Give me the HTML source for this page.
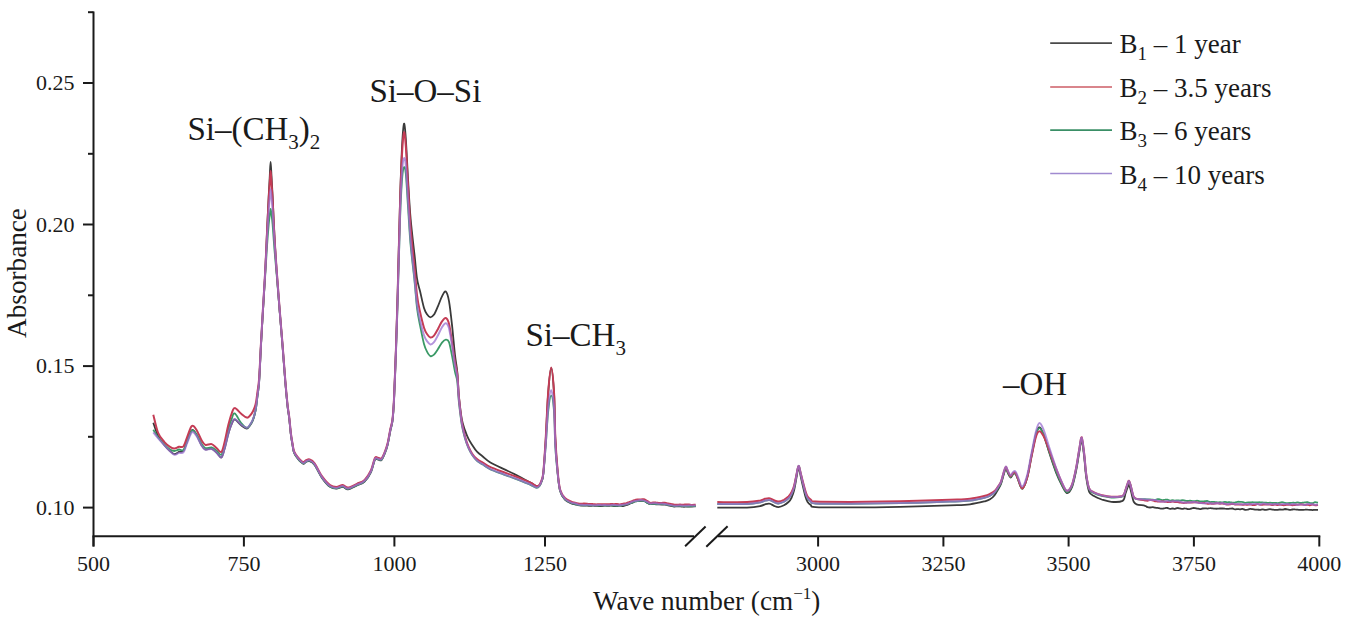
<!DOCTYPE html>
<html><head><meta charset="utf-8"><style>
html,body{margin:0;padding:0;background:#fff;width:1352px;height:624px;overflow:hidden}
svg{display:block}
text{font-family:"Liberation Serif",serif;fill:#1a1a1a}
.tick{font-size:22px}
.title{font-size:27.2px}
.ann{font-size:33px}
.leg{font-size:27px}
</style></head><body>
<svg width="1352" height="624" viewBox="0 0 1352 624">
<path d="M153.3,422.7 C154.1,424.9 156.2,432.0 158.0,435.8 C159.8,439.5 162.2,442.5 164.2,445.0 C166.2,447.5 168.3,449.5 170.0,451.0 C171.7,452.5 173.0,454.0 174.5,454.2 C176.0,454.3 177.5,452.5 179.0,451.9 C180.5,451.3 182.1,452.6 183.5,450.8 C184.9,448.9 185.9,444.3 187.3,440.8 C188.7,437.4 190.3,431.3 191.8,430.2 C193.3,429.2 194.7,432.0 196.3,434.5 C197.9,436.9 199.9,442.5 201.4,445.0 C202.9,447.5 203.6,448.9 205.3,449.5 C207.0,450.1 209.8,448.2 211.7,448.8 C213.6,449.4 215.2,451.4 216.8,452.8 C218.4,454.3 220.0,458.1 221.3,457.5 C222.6,456.8 223.3,453.1 224.5,449.1 C225.7,445.2 227.1,438.1 228.3,434.0 C229.5,429.9 230.4,427.0 231.5,424.5 C232.6,422.1 233.1,419.2 234.7,419.3 C236.3,419.5 239.2,423.8 241.2,425.3 C243.2,426.8 245.3,428.5 246.8,428.5 C248.3,428.4 249.3,426.4 250.3,425.0 C251.3,423.6 252.1,422.4 253.0,420.0 C253.9,417.6 254.8,414.4 255.6,410.4 C256.4,406.4 256.9,400.7 257.5,396.0 C258.1,391.3 258.5,390.4 259.1,382.2 C259.7,374.0 260.3,358.7 260.9,346.9 C261.5,335.1 262.2,323.4 262.9,311.6 C263.6,299.8 264.3,289.2 265.0,276.3 C265.7,263.4 266.3,247.9 266.9,234.4 C267.5,221.0 268.2,205.5 268.7,195.7 C269.2,185.8 269.5,181.1 269.8,175.5 C270.1,169.9 270.3,162.0 270.6,162.0 C270.9,162.1 271.2,170.2 271.5,175.9 C271.8,181.5 272.1,185.9 272.6,195.7 C273.1,205.6 273.7,221.5 274.4,234.9 C275.1,248.3 276.1,263.5 277.0,276.3 C277.9,289.1 278.8,299.8 279.7,311.6 C280.6,323.4 281.7,335.1 282.6,346.9 C283.5,358.7 284.5,372.3 285.3,382.2 C286.1,392.1 286.9,400.1 287.5,406.0 C288.1,411.9 288.5,412.7 289.1,417.5 C289.7,422.3 290.3,430.3 290.9,435.0 C291.5,439.7 292.1,442.7 292.6,445.7 C293.1,448.7 293.2,450.8 294.1,453.0 C295.0,455.2 296.5,457.2 298.0,459.0 C299.5,460.8 301.8,463.2 303.1,463.7 C304.4,464.2 304.9,462.4 306.0,462.0 C307.1,461.6 308.1,460.6 309.5,461.1 C310.9,461.6 312.5,462.1 314.6,465.0 C316.7,467.9 319.7,474.8 322.3,478.4 C324.9,482.0 327.6,485.1 330.0,486.8 C332.4,488.5 334.3,488.7 336.4,488.7 C338.5,488.7 340.9,486.7 342.8,486.8 C344.7,486.9 345.6,489.5 348.0,489.3 C350.4,489.1 354.1,486.8 356.9,485.5 C359.7,484.2 362.2,483.9 364.6,481.6 C367.0,479.4 369.3,475.6 371.0,472.0 C372.7,468.4 373.7,461.9 374.9,459.8 C376.1,457.7 376.9,459.5 378.0,459.5 C379.1,459.5 380.3,461.1 381.5,460.0 C382.7,458.9 384.0,455.5 385.0,453.0 C386.0,450.5 386.7,448.7 387.6,445.0 C388.5,441.3 389.5,435.0 390.3,431.0 C391.1,427.0 391.9,426.0 392.5,420.9 C393.1,415.7 393.4,412.3 394.0,400.2 C394.6,388.0 395.4,363.8 396.0,348.1 C396.6,332.4 396.9,318.6 397.3,305.8 C397.7,293.0 397.9,284.0 398.2,271.3 C398.5,258.6 398.9,243.8 399.3,229.6 C399.7,215.3 400.0,200.5 400.5,185.9 C401.0,171.2 401.7,152.2 402.3,141.8 C402.9,131.5 403.4,124.3 404.0,123.7 C404.6,123.2 405.1,129.1 405.8,138.5 C406.5,148.0 407.3,167.0 408.1,180.3 C408.9,193.6 409.5,206.2 410.6,218.6 C411.7,231.0 413.4,244.7 414.5,254.7 C415.6,264.7 416.1,272.4 417.0,278.4 C417.9,284.5 418.8,286.1 420.0,291.0 C421.2,295.9 422.8,304.0 424.0,307.9 C425.2,311.7 425.9,312.7 427.0,314.3 C428.1,315.9 429.2,317.2 430.4,317.3 C431.6,317.3 432.7,316.5 434.0,314.6 C435.3,312.8 436.7,309.1 438.0,306.1 C439.3,303.1 440.7,298.8 442.0,296.4 C443.3,293.9 444.6,290.7 445.8,291.5 C447.0,292.3 448.0,295.7 449.0,301.2 C450.0,306.8 451.0,315.8 452.0,324.8 C453.0,333.7 454.1,347.4 455.0,355.2 C455.9,363.1 456.6,365.0 457.3,372.0 C458.0,379.0 458.2,389.5 459.0,397.4 C459.8,405.2 460.8,413.6 461.8,419.2 C462.8,424.8 464.1,427.6 465.2,430.9 C466.3,434.2 467.3,436.5 468.5,438.9 C469.7,441.2 470.8,442.8 472.2,444.9 C473.6,447.1 475.2,449.7 477.0,451.6 C478.8,453.5 480.6,454.8 482.8,456.5 C485.0,458.3 486.5,460.1 490.0,462.2 C493.5,464.3 499.7,467.1 503.9,469.1 C508.1,471.1 511.5,472.6 515.0,474.4 C518.5,476.1 522.4,478.4 525.1,479.8 C527.8,481.2 529.1,481.8 531.0,482.8 C532.9,483.9 535.2,485.7 536.6,486.1 C538.0,486.5 538.8,486.0 539.6,485.3 C540.4,484.6 540.9,483.7 541.5,481.8 C542.1,479.9 542.6,481.0 543.3,474.1 C544.0,467.2 544.9,453.6 545.7,440.3 C546.5,427.1 547.2,406.7 548.1,394.6 C549.0,382.6 550.2,368.0 551.2,368.0 C552.2,368.1 553.4,383.0 554.1,394.7 C554.8,406.5 554.7,425.4 555.3,438.5 C555.9,451.6 556.9,464.4 557.7,473.2 C558.5,482.0 558.9,486.7 560.1,491.1 C561.3,495.5 563.0,497.6 564.9,499.6 C566.8,501.7 569.6,502.6 571.3,503.4 C573.0,504.2 573.9,504.0 575.0,504.3 C576.1,504.6 577.0,505.0 578.0,505.2 C579.0,505.4 580.0,505.6 581.0,505.7 C582.0,505.7 583.0,505.5 584.0,505.5 C585.0,505.5 586.0,505.6 587.0,505.7 C588.0,505.8 589.0,505.9 590.0,505.9 C591.0,505.9 592.0,505.7 593.0,505.7 C594.0,505.7 595.0,505.9 596.0,505.9 C597.0,506.0 598.0,505.9 599.0,506.0 C600.0,506.0 601.0,506.1 602.0,506.1 C603.0,506.0 604.0,505.7 605.0,505.7 C606.0,505.6 607.0,505.8 608.0,505.8 C609.0,505.8 610.0,505.6 611.0,505.7 C612.0,505.7 613.0,506.0 614.0,506.1 C615.0,506.1 616.0,506.1 617.0,506.0 C618.0,505.9 619.0,505.6 620.0,505.6 C621.0,505.6 622.0,506.0 623.0,506.0 C624.0,505.9 625.0,505.5 626.0,505.2 C627.0,504.9 628.0,504.5 629.0,504.1 C630.0,503.7 631.0,503.3 632.0,502.8 C633.0,502.4 634.0,501.8 635.0,501.4 C636.0,501.1 637.0,501.1 638.0,501.0 C639.0,500.9 640.0,500.9 641.0,500.9 C642.0,500.9 643.0,500.8 644.0,501.0 C645.0,501.3 646.0,502.1 647.0,502.6 C648.0,503.1 649.0,503.9 650.0,504.1 C651.0,504.3 652.0,504.0 653.0,504.0 C654.0,504.0 655.0,504.2 656.0,504.3 C657.0,504.3 658.0,504.2 659.0,504.3 C660.0,504.3 661.0,504.4 662.0,504.5 C663.0,504.6 664.0,504.5 665.0,504.6 C666.0,504.7 667.0,505.1 668.0,505.3 C669.0,505.5 670.0,505.6 671.0,505.8 C672.0,506.0 673.0,506.4 674.0,506.5 C675.0,506.6 676.0,506.4 677.0,506.4 C678.0,506.3 679.0,506.2 680.0,506.3 C681.0,506.3 682.0,506.6 683.0,506.7 C684.0,506.8 685.0,506.7 686.0,506.7 C687.0,506.7 688.0,506.6 689.0,506.6 C690.0,506.6 690.9,506.6 692.0,506.5 C693.1,506.5 695.1,506.4 695.7,506.4" fill="none" stroke="#3a3a3a" stroke-width="1.8" stroke-opacity="1.00" stroke-linejoin="round"/>
<path d="M717.3,507.6 C722.2,507.6 739.8,507.9 747.0,507.6 C754.2,507.3 757.5,506.6 760.5,506.0 C763.5,505.4 763.5,504.7 765.0,504.3 C766.5,503.9 768.0,503.4 769.5,503.7 C771.0,503.9 772.5,505.2 774.0,505.8 C775.5,506.4 776.7,507.2 778.4,507.1 C780.1,507.0 782.3,506.2 784.0,505.3 C785.7,504.4 787.2,503.2 788.5,502.0 C789.8,500.8 790.6,499.8 791.5,497.8 C792.4,495.8 793.3,493.6 794.1,490.3 C794.9,486.9 795.8,481.4 796.5,477.6 C797.2,473.8 797.9,467.6 798.6,467.5 C799.3,467.4 800.0,473.5 800.8,476.7 C801.5,480.0 802.3,483.7 803.1,487.0 C803.9,490.4 804.8,494.3 805.5,496.8 C806.2,499.3 806.7,500.6 807.6,502.0 C808.5,503.4 809.7,504.4 811.0,505.3 C812.3,506.2 809.0,506.8 815.5,507.1 C822.0,507.5 835.9,507.5 850.0,507.4 C864.1,507.4 883.3,507.2 900.0,506.8 C916.7,506.4 938.3,505.7 950.0,505.3 C961.7,504.9 964.2,505.0 970.0,504.3 C975.8,503.6 981.7,502.1 985.0,501.3 C988.3,500.5 988.4,500.3 990.0,499.3 C991.6,498.3 993.3,496.8 994.6,495.2 C995.9,493.6 996.9,491.5 998.0,489.6 C999.1,487.7 1000.1,486.4 1001.0,484.0 C1001.9,481.6 1002.7,477.8 1003.5,475.3 C1004.3,472.8 1005.0,469.1 1005.8,468.8 C1006.5,468.5 1007.2,471.8 1008.0,473.3 C1008.8,474.8 1009.8,477.4 1010.6,477.6 C1011.4,477.8 1012.2,475.0 1013.0,474.3 C1013.8,473.6 1014.6,472.8 1015.4,473.6 C1016.2,474.4 1016.9,476.8 1018.0,479.3 C1019.1,481.8 1020.7,489.1 1022.2,488.7 C1023.7,488.3 1025.7,482.7 1027.2,477.2 C1028.8,471.7 1030.0,462.7 1031.5,455.5 C1033.0,448.3 1034.6,439.0 1035.9,434.3 C1037.2,429.6 1038.2,427.0 1039.5,427.2 C1040.8,427.3 1042.2,431.3 1043.8,435.3 C1045.3,439.3 1046.8,445.1 1048.8,451.3 C1050.8,457.5 1053.8,466.7 1056.0,472.3 C1058.2,478.0 1060.0,481.7 1061.8,485.1 C1063.6,488.6 1065.1,492.6 1066.8,493.0 C1068.5,493.4 1070.3,491.2 1071.9,487.4 C1073.5,483.6 1075.0,476.0 1076.2,470.3 C1077.4,464.6 1078.2,458.2 1079.1,453.2 C1080.0,448.2 1080.9,439.8 1081.7,440.3 C1082.5,440.8 1083.3,449.9 1084.1,456.2 C1084.9,462.5 1085.4,472.1 1086.3,478.0 C1087.2,484.0 1087.9,488.8 1089.2,491.9 C1090.5,494.9 1091.9,494.8 1094.0,496.1 C1096.1,497.4 1098.8,498.5 1101.7,499.5 C1104.6,500.4 1107.8,501.6 1111.3,501.8 C1114.8,502.1 1120.1,502.2 1122.5,500.9 C1124.9,499.5 1124.7,495.7 1125.5,493.5 C1126.3,491.3 1126.9,489.1 1127.5,487.6 C1128.1,486.1 1128.4,484.5 1128.9,484.8 C1129.4,485.0 1130.0,487.4 1130.5,489.2 C1131.0,491.0 1131.5,493.4 1132.0,495.5 C1132.5,497.6 1132.9,500.3 1133.7,501.7 C1134.5,503.2 1134.7,503.6 1136.6,504.3 C1138.5,505.0 1143.2,505.3 1145.0,505.8 C1146.8,506.3 1146.7,506.9 1147.5,507.2 C1148.3,507.5 1149.2,507.5 1150.0,507.5 C1150.8,507.5 1151.7,507.2 1152.5,507.2 C1153.3,507.2 1154.2,507.6 1155.0,507.7 C1155.8,507.8 1156.7,507.8 1157.5,507.9 C1158.3,508.0 1159.2,508.2 1160.0,508.4 C1160.8,508.5 1161.7,508.8 1162.5,508.7 C1163.3,508.7 1164.2,508.2 1165.0,508.1 C1165.8,507.9 1166.7,507.9 1167.5,508.0 C1168.3,508.1 1169.2,508.8 1170.0,508.9 C1170.8,509.0 1171.7,508.5 1172.5,508.4 C1173.3,508.4 1174.2,508.9 1175.0,508.8 C1175.8,508.7 1176.7,508.0 1177.5,508.0 C1178.3,507.9 1179.2,508.3 1180.0,508.5 C1180.8,508.6 1181.7,508.8 1182.5,508.8 C1183.3,508.8 1184.2,508.2 1185.0,508.3 C1185.8,508.3 1186.7,508.9 1187.5,509.0 C1188.3,509.2 1189.2,509.2 1190.0,509.0 C1190.8,508.8 1191.7,508.2 1192.5,508.1 C1193.3,507.9 1194.2,508.0 1195.0,508.1 C1195.8,508.2 1196.7,508.5 1197.5,508.6 C1198.3,508.8 1199.2,509.1 1200.0,509.1 C1200.8,509.1 1201.7,508.6 1202.5,508.5 C1203.3,508.4 1204.2,508.3 1205.0,508.3 C1205.8,508.3 1206.7,508.6 1207.5,508.6 C1208.3,508.5 1209.2,508.2 1210.0,508.2 C1210.8,508.1 1211.7,508.3 1212.5,508.4 C1213.3,508.5 1214.2,508.6 1215.0,508.6 C1215.8,508.7 1216.7,508.8 1217.5,508.7 C1218.3,508.7 1219.2,508.5 1220.0,508.5 C1220.8,508.5 1221.7,508.5 1222.5,508.5 C1223.3,508.5 1224.2,508.5 1225.0,508.6 C1225.8,508.6 1226.7,508.8 1227.5,508.9 C1228.3,508.9 1229.2,508.8 1230.0,508.7 C1230.8,508.7 1231.7,508.4 1232.5,508.5 C1233.3,508.6 1234.2,509.3 1235.0,509.4 C1235.8,509.5 1236.7,509.2 1237.5,509.1 C1238.3,509.1 1239.2,509.3 1240.0,509.3 C1240.8,509.2 1241.7,508.7 1242.5,508.8 C1243.3,508.9 1244.2,509.6 1245.0,509.8 C1245.8,509.9 1246.7,509.8 1247.5,509.7 C1248.3,509.5 1249.2,509.0 1250.0,508.9 C1250.8,508.8 1251.7,509.0 1252.5,509.1 C1253.3,509.3 1254.2,509.5 1255.0,509.6 C1255.8,509.7 1256.7,509.5 1257.5,509.6 C1258.3,509.6 1259.2,509.9 1260.0,509.9 C1260.8,509.8 1261.7,509.3 1262.5,509.3 C1263.3,509.3 1264.2,509.7 1265.0,509.8 C1265.8,509.8 1266.7,509.7 1267.5,509.6 C1268.3,509.5 1269.2,509.2 1270.0,509.2 C1270.8,509.2 1271.7,509.4 1272.5,509.6 C1273.3,509.7 1274.2,509.9 1275.0,509.9 C1275.8,510.0 1276.7,509.9 1277.5,509.9 C1278.3,509.8 1279.2,509.6 1280.0,509.5 C1280.8,509.5 1281.7,509.7 1282.5,509.6 C1283.3,509.6 1284.2,509.1 1285.0,509.0 C1285.8,509.0 1286.7,509.1 1287.5,509.3 C1288.3,509.4 1289.2,509.9 1290.0,509.9 C1290.8,510.0 1291.7,509.6 1292.5,509.5 C1293.3,509.4 1294.2,509.2 1295.0,509.3 C1295.8,509.3 1296.7,509.6 1297.5,509.7 C1298.3,509.8 1299.2,509.9 1300.0,509.9 C1300.8,509.9 1301.7,509.9 1302.5,509.9 C1303.3,509.8 1304.2,509.6 1305.0,509.6 C1305.8,509.5 1306.7,509.6 1307.5,509.7 C1308.3,509.7 1309.2,509.7 1310.0,509.8 C1310.8,509.8 1311.7,510.1 1312.5,510.1 C1313.3,510.1 1314.1,509.8 1315.0,509.8 C1315.9,509.8 1317.5,509.8 1318.0,509.8" fill="none" stroke="#3a3a3a" stroke-width="1.8" stroke-opacity="1.00" stroke-linejoin="round"/>
<path d="M153.3,429.8 C154.1,431.0 156.2,434.8 158.0,437.2 C159.8,439.6 162.2,442.2 164.2,444.2 C166.2,446.3 168.3,448.5 170.0,449.6 C171.7,450.7 173.0,451.0 174.5,451.0 C176.0,450.9 177.5,449.7 179.0,449.5 C180.5,449.3 182.1,451.4 183.5,450.0 C184.9,448.6 185.9,444.2 187.3,441.0 C188.7,437.8 190.3,432.0 191.8,430.8 C193.3,429.6 194.7,431.9 196.3,434.0 C197.9,436.1 199.9,441.2 201.4,443.6 C202.9,446.0 203.6,447.5 205.3,448.1 C207.0,448.7 209.8,447.0 211.7,447.4 C213.6,447.8 215.2,449.5 216.8,450.8 C218.4,452.0 220.0,455.6 221.3,454.7 C222.6,453.9 223.3,449.9 224.5,445.7 C225.7,441.5 227.1,433.9 228.3,429.5 C229.5,425.1 230.4,422.0 231.5,419.3 C232.6,416.6 233.1,412.7 234.7,413.4 C236.3,414.0 239.2,420.8 241.2,423.2 C243.2,425.6 245.3,427.6 246.8,427.9 C248.3,428.1 249.3,426.0 250.3,424.6 C251.3,423.2 252.1,422.0 253.0,419.6 C253.9,417.2 254.8,414.0 255.6,410.0 C256.4,406.0 256.9,400.3 257.5,395.6 C258.1,390.9 258.5,390.0 259.1,381.8 C259.7,373.6 260.3,358.2 260.9,346.5 C261.5,334.8 262.2,323.2 262.9,311.9 C263.6,300.6 264.3,289.5 265.0,278.8 C265.7,268.1 266.3,257.0 266.9,248.0 C267.5,238.9 268.2,230.1 268.7,224.6 C269.2,219.0 269.5,217.2 269.8,214.6 C270.1,212.0 270.3,208.9 270.6,208.9 C270.9,208.9 271.2,211.9 271.5,214.5 C271.8,217.1 272.1,218.8 272.6,224.5 C273.1,230.3 273.7,239.9 274.4,248.9 C275.1,257.9 276.1,268.4 277.0,278.8 C277.9,289.2 278.8,300.1 279.7,311.4 C280.6,322.7 281.7,334.8 282.6,346.5 C283.5,358.2 284.5,371.9 285.3,381.8 C286.1,391.7 286.9,399.7 287.5,405.6 C288.1,411.5 288.5,412.3 289.1,417.1 C289.7,421.9 290.3,429.9 290.9,434.6 C291.5,439.3 292.1,442.3 292.6,445.3 C293.1,448.3 293.2,450.4 294.1,452.6 C295.0,454.8 296.5,456.8 298.0,458.6 C299.5,460.4 301.8,462.8 303.1,463.3 C304.4,463.8 304.9,462.0 306.0,461.6 C307.1,461.2 308.1,460.2 309.5,460.7 C310.9,461.2 312.5,461.7 314.6,464.6 C316.7,467.5 319.7,474.4 322.3,478.0 C324.9,481.6 327.6,484.7 330.0,486.4 C332.4,488.1 334.3,488.3 336.4,488.3 C338.5,488.3 340.9,486.3 342.8,486.4 C344.7,486.5 345.6,489.1 348.0,488.9 C350.4,488.7 354.1,486.4 356.9,485.1 C359.7,483.8 362.2,483.5 364.6,481.2 C367.0,479.0 369.3,475.2 371.0,471.6 C372.7,468.0 373.7,461.5 374.9,459.4 C376.1,457.3 376.9,459.1 378.0,459.1 C379.1,459.1 380.3,460.7 381.5,459.6 C382.7,458.5 384.0,455.1 385.0,452.6 C386.0,450.1 386.7,448.3 387.6,444.6 C388.5,440.9 389.5,434.6 390.3,430.6 C391.1,426.6 391.9,425.6 392.5,420.7 C393.1,415.7 393.4,412.5 394.0,401.0 C394.6,389.6 395.4,366.7 396.0,352.0 C396.6,337.4 396.9,324.8 397.3,313.1 C397.7,301.5 397.9,293.3 398.2,282.1 C398.5,270.8 398.9,257.7 399.3,245.4 C399.7,233.0 400.0,219.5 400.5,208.0 C401.0,196.5 401.7,183.3 402.3,176.5 C402.9,169.8 403.4,167.8 404.0,167.3 C404.6,166.9 405.1,166.9 405.8,173.7 C406.5,180.5 407.3,196.4 408.1,208.3 C408.9,220.1 409.5,232.8 410.6,244.9 C411.7,257.0 413.4,270.3 414.5,280.8 C415.6,291.4 416.1,300.5 417.0,307.9 C417.9,315.3 418.8,319.1 420.0,325.1 C421.2,331.1 422.8,339.6 424.0,344.0 C425.2,348.4 425.9,349.6 427.0,351.6 C428.1,353.6 429.2,355.6 430.4,356.1 C431.6,356.6 432.7,355.9 434.0,354.7 C435.3,353.5 436.7,351.1 438.0,349.1 C439.3,347.0 440.7,344.2 442.0,342.6 C443.3,341.0 444.6,339.8 445.8,339.7 C447.0,339.6 448.0,339.4 449.0,342.1 C450.0,344.7 451.0,350.6 452.0,355.6 C453.0,360.6 454.1,367.5 455.0,371.9 C455.9,376.3 456.6,376.5 457.3,381.8 C458.0,387.0 458.2,396.0 459.0,403.2 C459.8,410.4 460.8,418.9 461.8,424.9 C462.8,430.9 464.1,435.2 465.2,439.1 C466.3,443.0 467.3,445.5 468.5,448.2 C469.7,450.9 470.8,453.0 472.2,455.1 C473.6,457.2 475.2,459.2 477.0,460.8 C478.8,462.4 480.6,463.2 482.8,464.6 C485.0,466.0 486.5,467.5 490.0,469.2 C493.5,470.9 499.7,473.0 503.9,474.6 C508.1,476.2 511.5,477.3 515.0,478.6 C518.5,479.9 522.4,481.5 525.1,482.6 C527.8,483.7 529.1,484.2 531.0,485.1 C532.9,486.0 535.2,487.7 536.6,487.8 C538.0,487.9 538.8,486.9 539.6,485.9 C540.4,484.9 540.9,483.6 541.5,481.6 C542.1,479.6 542.6,479.9 543.3,473.9 C544.0,468.0 544.9,456.4 545.7,446.1 C546.5,435.9 547.2,420.9 548.1,412.4 C549.0,404.0 550.2,395.7 551.2,395.7 C552.2,395.7 553.4,403.9 554.1,412.4 C554.8,420.9 554.7,436.3 555.3,446.6 C555.9,456.9 556.9,466.8 557.7,474.2 C558.5,481.5 558.9,486.5 560.1,490.7 C561.3,494.9 563.0,497.2 564.9,499.2 C566.8,501.3 569.6,502.2 571.3,503.0 C573.0,503.8 573.9,503.5 575.0,503.8 C576.1,504.1 577.0,504.6 578.0,504.9 C579.0,505.1 580.0,505.0 581.0,505.1 C582.0,505.2 583.0,505.4 584.0,505.4 C585.0,505.4 586.0,505.1 587.0,505.1 C588.0,505.1 589.0,505.3 590.0,505.3 C591.0,505.3 592.0,505.3 593.0,505.3 C594.0,505.3 595.0,505.3 596.0,505.3 C597.0,505.4 598.0,505.6 599.0,505.6 C600.0,505.6 601.0,505.3 602.0,505.3 C603.0,505.3 604.0,505.5 605.0,505.5 C606.0,505.5 607.0,505.4 608.0,505.3 C609.0,505.3 610.0,505.4 611.0,505.4 C612.0,505.4 613.0,505.4 614.0,505.5 C615.0,505.5 616.0,505.7 617.0,505.7 C618.0,505.7 619.0,505.7 620.0,505.6 C621.0,505.4 622.0,505.2 623.0,505.0 C624.0,504.8 625.0,504.6 626.0,504.4 C627.0,504.1 628.0,503.7 629.0,503.4 C630.0,503.1 631.0,502.9 632.0,502.6 C633.0,502.3 634.0,501.7 635.0,501.4 C636.0,501.2 637.0,501.2 638.0,501.1 C639.0,500.9 640.0,500.7 641.0,500.7 C642.0,500.7 643.0,500.7 644.0,501.0 C645.0,501.4 646.0,502.1 647.0,502.6 C648.0,503.1 649.0,503.8 650.0,504.0 C651.0,504.2 652.0,503.7 653.0,503.8 C654.0,503.8 655.0,504.1 656.0,504.1 C657.0,504.1 658.0,503.9 659.0,503.9 C660.0,503.9 661.0,504.0 662.0,504.1 C663.0,504.1 664.0,504.1 665.0,504.2 C666.0,504.4 667.0,504.6 668.0,504.8 C669.0,504.9 670.0,505.1 671.0,505.3 C672.0,505.5 673.0,505.9 674.0,506.0 C675.0,506.1 676.0,505.9 677.0,505.9 C678.0,505.9 679.0,505.7 680.0,505.8 C681.0,505.8 682.0,506.1 683.0,506.2 C684.0,506.3 685.0,506.2 686.0,506.2 C687.0,506.2 688.0,506.3 689.0,506.3 C690.0,506.3 690.9,506.2 692.0,506.1 C693.1,506.1 695.1,506.0 695.7,506.0" fill="none" stroke="#3a9966" stroke-width="1.8" stroke-opacity="1.00" stroke-linejoin="round"/>
<path d="M717.3,504.0 C722.2,504.0 739.8,504.2 747.0,504.0 C754.2,503.7 757.5,502.9 760.5,502.4 C763.5,501.8 763.5,501.1 765.0,500.7 C766.5,500.3 768.0,499.8 769.5,500.1 C771.0,500.3 772.5,501.6 774.0,502.2 C775.5,502.7 776.7,503.6 778.4,503.5 C780.1,503.4 782.3,502.5 784.0,501.7 C785.7,500.8 787.2,499.6 788.5,498.4 C789.8,497.1 790.6,496.0 791.5,494.2 C792.4,492.3 793.3,490.3 794.1,487.2 C794.9,484.0 795.8,478.7 796.5,475.2 C797.2,471.6 797.9,466.0 798.6,465.9 C799.3,465.7 800.0,471.2 800.8,474.2 C801.5,477.2 802.3,480.7 803.1,483.9 C803.9,487.0 804.8,490.8 805.5,493.2 C806.2,495.6 806.7,497.0 807.6,498.4 C808.5,499.8 809.7,500.8 811.0,501.7 C812.3,502.5 809.0,503.1 815.5,503.5 C822.0,503.8 835.9,503.8 850.0,503.8 C864.1,503.7 883.3,503.5 900.0,503.2 C916.7,502.8 938.3,502.1 950.0,501.7 C961.7,501.3 964.2,501.3 970.0,500.7 C975.8,500.0 981.7,498.5 985.0,497.7 C988.3,496.8 988.4,496.5 990.0,495.7 C991.6,494.9 993.3,494.0 994.6,492.7 C995.9,491.5 996.9,489.6 998.0,488.0 C999.1,486.3 1000.1,485.2 1001.0,482.9 C1001.9,480.7 1002.7,476.9 1003.5,474.4 C1004.3,471.9 1005.0,468.3 1005.8,468.0 C1006.5,467.7 1007.2,471.1 1008.0,472.6 C1008.8,474.1 1009.8,476.9 1010.6,477.1 C1011.4,477.3 1012.2,474.5 1013.0,473.9 C1013.8,473.3 1014.6,472.5 1015.4,473.4 C1016.2,474.2 1016.9,476.6 1018.0,479.2 C1019.1,481.8 1020.7,489.1 1022.2,488.8 C1023.7,488.6 1025.7,483.1 1027.2,477.6 C1028.8,472.2 1030.0,463.3 1031.5,456.2 C1033.0,449.1 1034.6,439.8 1035.9,435.2 C1037.2,430.5 1038.2,428.1 1039.5,428.1 C1040.8,428.0 1042.2,431.4 1043.8,435.0 C1045.3,438.7 1046.8,444.2 1048.8,450.2 C1050.8,456.2 1053.8,465.5 1056.0,471.2 C1058.2,476.9 1060.0,480.8 1061.8,484.3 C1063.6,487.8 1065.1,491.8 1066.8,492.1 C1068.5,492.5 1070.3,490.0 1071.9,486.2 C1073.5,482.3 1075.0,474.6 1076.2,468.8 C1077.4,463.0 1078.2,456.5 1079.1,451.4 C1080.0,446.4 1080.9,438.0 1081.7,438.4 C1082.5,438.9 1083.3,447.9 1084.1,454.2 C1084.9,460.4 1085.4,470.0 1086.3,475.8 C1087.2,481.7 1087.9,486.6 1089.2,489.5 C1090.5,492.4 1091.9,492.3 1094.0,493.3 C1096.1,494.4 1098.8,495.3 1101.7,496.0 C1104.6,496.7 1107.8,497.4 1111.3,497.5 C1114.8,497.6 1120.1,497.7 1122.5,496.5 C1124.9,495.3 1124.7,492.4 1125.5,490.4 C1126.3,488.4 1126.9,485.9 1127.5,484.4 C1128.1,482.8 1128.4,481.1 1128.9,481.2 C1129.4,481.4 1130.0,483.6 1130.5,485.3 C1131.0,487.0 1131.5,489.3 1132.0,491.3 C1132.5,493.3 1132.9,495.9 1133.7,497.2 C1134.5,498.5 1134.7,498.8 1136.6,499.1 C1138.5,499.5 1143.2,499.0 1145.0,499.1 C1146.8,499.2 1146.7,499.5 1147.5,499.5 C1148.3,499.6 1149.2,499.4 1150.0,499.4 C1150.8,499.4 1151.7,499.6 1152.5,499.7 C1153.3,499.8 1154.2,499.9 1155.0,499.8 C1155.8,499.7 1156.7,499.3 1157.5,499.2 C1158.3,499.2 1159.2,499.1 1160.0,499.3 C1160.8,499.4 1161.7,500.2 1162.5,500.2 C1163.3,500.3 1164.2,499.7 1165.0,499.7 C1165.8,499.6 1166.7,499.5 1167.5,499.7 C1168.3,499.9 1169.2,500.6 1170.0,500.6 C1170.8,500.7 1171.7,500.1 1172.5,500.1 C1173.3,500.1 1174.2,500.6 1175.0,500.6 C1175.8,500.6 1176.7,500.3 1177.5,500.3 C1178.3,500.3 1179.2,500.6 1180.0,500.6 C1180.8,500.5 1181.7,500.1 1182.5,500.1 C1183.3,500.1 1184.2,500.5 1185.0,500.7 C1185.8,500.9 1186.7,501.0 1187.5,501.0 C1188.3,501.0 1189.2,500.7 1190.0,500.7 C1190.8,500.7 1191.7,501.0 1192.5,501.1 C1193.3,501.1 1194.2,501.2 1195.0,501.1 C1195.8,501.0 1196.7,500.5 1197.5,500.6 C1198.3,500.6 1199.2,501.3 1200.0,501.5 C1200.8,501.6 1201.7,501.4 1202.5,501.4 C1203.3,501.4 1204.2,501.3 1205.0,501.2 C1205.8,501.1 1206.7,500.9 1207.5,501.0 C1208.3,501.2 1209.2,501.9 1210.0,502.1 C1210.8,502.2 1211.7,501.7 1212.5,501.8 C1213.3,501.8 1214.2,502.0 1215.0,502.1 C1215.8,502.2 1216.7,502.3 1217.5,502.4 C1218.3,502.4 1219.2,502.2 1220.0,502.2 C1220.8,502.2 1221.7,502.5 1222.5,502.5 C1223.3,502.4 1224.2,501.9 1225.0,501.9 C1225.8,501.9 1226.7,502.4 1227.5,502.4 C1228.3,502.4 1229.2,502.0 1230.0,502.1 C1230.8,502.1 1231.7,502.5 1232.5,502.6 C1233.3,502.7 1234.2,502.7 1235.0,502.6 C1235.8,502.5 1236.7,501.9 1237.5,501.8 C1238.3,501.7 1239.2,501.8 1240.0,501.9 C1240.8,501.9 1241.7,501.8 1242.5,502.0 C1243.3,502.1 1244.2,502.8 1245.0,502.8 C1245.8,502.9 1246.7,502.3 1247.5,502.3 C1248.3,502.2 1249.2,502.6 1250.0,502.5 C1250.8,502.5 1251.7,502.2 1252.5,502.2 C1253.3,502.2 1254.2,502.4 1255.0,502.4 C1255.8,502.4 1256.7,502.3 1257.5,502.3 C1258.3,502.3 1259.2,502.2 1260.0,502.3 C1260.8,502.3 1261.7,502.5 1262.5,502.5 C1263.3,502.6 1264.2,502.5 1265.0,502.6 C1265.8,502.6 1266.7,502.9 1267.5,502.9 C1268.3,502.9 1269.2,502.7 1270.0,502.7 C1270.8,502.7 1271.7,502.9 1272.5,503.0 C1273.3,503.0 1274.2,502.9 1275.0,502.9 C1275.8,502.9 1276.7,503.1 1277.5,503.1 C1278.3,503.0 1279.2,502.9 1280.0,502.7 C1280.8,502.6 1281.7,502.1 1282.5,502.2 C1283.3,502.2 1284.2,502.8 1285.0,502.9 C1285.8,503.1 1286.7,503.1 1287.5,503.1 C1288.3,503.1 1289.2,503.1 1290.0,503.0 C1290.8,502.9 1291.7,502.7 1292.5,502.7 C1293.3,502.6 1294.2,502.9 1295.0,502.8 C1295.8,502.8 1296.7,502.3 1297.5,502.3 C1298.3,502.3 1299.2,502.9 1300.0,503.0 C1300.8,503.0 1301.7,502.8 1302.5,502.7 C1303.3,502.6 1304.2,502.5 1305.0,502.4 C1305.8,502.3 1306.7,502.1 1307.5,502.2 C1308.3,502.3 1309.2,502.9 1310.0,503.0 C1310.8,503.2 1311.7,503.3 1312.5,503.2 C1313.3,503.1 1314.1,502.3 1315.0,502.2 C1315.9,502.1 1317.5,502.6 1318.0,502.7" fill="none" stroke="#3a9966" stroke-width="1.8" stroke-opacity="1.00" stroke-linejoin="round"/>
<path d="M153.3,414.7 C154.1,417.7 156.2,428.0 158.0,432.5 C159.8,437.0 162.2,439.4 164.2,441.8 C166.2,444.2 168.3,445.7 170.0,446.8 C171.7,447.9 173.0,448.6 174.5,448.6 C176.0,448.6 177.5,447.2 179.0,446.8 C180.5,446.4 182.1,448.0 183.5,446.3 C184.9,444.6 185.9,440.1 187.3,436.7 C188.7,433.3 190.3,427.2 191.8,426.0 C193.3,424.8 194.7,427.3 196.3,429.6 C197.9,431.9 199.9,437.3 201.4,439.9 C202.9,442.4 203.6,444.1 205.3,444.8 C207.0,445.5 209.8,443.5 211.7,444.1 C213.6,444.7 215.2,447.0 216.8,448.3 C218.4,449.6 220.0,452.9 221.3,451.9 C222.6,450.9 223.3,447.0 224.5,442.6 C225.7,438.1 227.1,429.8 228.3,425.1 C229.5,420.3 230.4,416.8 231.5,414.0 C232.6,411.2 233.1,408.1 234.7,408.1 C236.3,408.0 239.2,412.2 241.2,413.8 C243.2,415.4 245.3,417.4 246.8,417.6 C248.3,417.9 249.3,416.3 250.3,415.2 C251.3,414.2 252.1,413.1 253.0,411.3 C253.9,409.5 254.8,407.6 255.6,404.3 C256.4,401.0 256.9,395.9 257.5,391.6 C258.1,387.3 258.5,386.6 259.1,378.8 C259.7,370.9 260.3,356.0 260.9,344.5 C261.5,333.1 262.2,321.6 262.9,309.9 C263.6,298.2 264.3,287.1 265.0,274.6 C265.7,262.1 266.3,247.5 266.9,234.9 C267.5,222.4 268.2,208.1 268.7,199.3 C269.2,190.5 269.5,186.8 269.8,182.1 C270.1,177.4 270.3,170.9 270.6,170.9 C270.9,171.0 271.2,177.6 271.5,182.3 C271.8,187.0 272.1,190.5 272.6,199.3 C273.1,208.1 273.7,222.7 274.4,235.2 C275.1,247.8 276.1,262.2 277.0,274.6 C277.9,287.0 278.8,298.1 279.7,309.9 C280.6,321.7 281.7,333.4 282.6,345.2 C283.5,357.0 284.5,370.6 285.3,380.5 C286.1,390.4 286.9,398.4 287.5,404.3 C288.1,410.2 288.5,411.0 289.1,415.8 C289.7,420.6 290.3,428.6 290.9,433.3 C291.5,438.0 292.1,441.0 292.6,444.0 C293.1,447.0 293.2,449.1 294.1,451.3 C295.0,453.5 296.5,455.5 298.0,457.3 C299.5,459.1 301.8,461.5 303.1,462.0 C304.4,462.5 304.9,460.7 306.0,460.3 C307.1,459.9 308.1,458.9 309.5,459.4 C310.9,459.9 312.5,460.4 314.6,463.3 C316.7,466.2 319.7,473.1 322.3,476.7 C324.9,480.3 327.6,483.4 330.0,485.1 C332.4,486.8 334.3,487.0 336.4,487.0 C338.5,487.0 340.9,485.0 342.8,485.1 C344.7,485.2 345.6,487.8 348.0,487.6 C350.4,487.4 354.1,485.1 356.9,483.8 C359.7,482.5 362.2,482.2 364.6,479.9 C367.0,477.7 369.3,473.9 371.0,470.3 C372.7,466.7 373.7,460.2 374.9,458.1 C376.1,456.0 376.9,457.8 378.0,457.8 C379.1,457.8 380.3,459.4 381.5,458.3 C382.7,457.2 384.0,453.8 385.0,451.3 C386.0,448.8 386.7,447.0 387.6,443.3 C388.5,439.6 389.5,433.3 390.3,429.3 C391.1,425.3 391.9,424.3 392.5,419.2 C393.1,414.1 393.4,410.7 394.0,398.7 C394.6,386.8 395.4,362.9 396.0,347.4 C396.6,331.9 396.9,318.4 397.3,305.8 C397.7,293.3 397.9,284.5 398.2,272.1 C398.5,259.8 398.9,245.4 399.3,231.7 C399.7,217.9 400.0,203.3 400.5,189.5 C401.0,175.8 401.7,158.7 402.3,149.2 C402.9,139.6 403.4,132.9 404.0,132.3 C404.6,131.8 405.1,136.9 405.8,146.0 C406.5,155.1 407.3,173.2 408.1,186.9 C408.9,200.5 409.5,214.3 410.6,227.8 C411.7,241.3 413.4,256.5 414.5,267.7 C415.6,278.9 416.1,287.6 417.0,295.0 C417.9,302.4 418.8,306.4 420.0,311.8 C421.2,317.2 422.8,323.9 424.0,327.7 C425.2,331.4 425.9,332.4 427.0,334.0 C428.1,335.7 429.2,337.2 430.4,337.5 C431.6,337.7 432.7,337.1 434.0,335.6 C435.3,334.2 436.7,331.3 438.0,328.9 C439.3,326.5 440.7,323.2 442.0,321.4 C443.3,319.5 444.6,317.6 445.8,318.0 C447.0,318.4 448.0,319.9 449.0,323.8 C450.0,327.8 451.0,335.4 452.0,341.8 C453.0,348.2 454.1,356.8 455.0,362.2 C455.9,367.6 456.6,368.5 457.3,374.4 C458.0,380.4 458.2,390.1 459.0,398.0 C459.8,405.9 460.8,415.2 461.8,421.7 C462.8,428.2 464.1,432.9 465.2,437.0 C466.3,441.2 467.3,444.0 468.5,446.7 C469.7,449.5 470.8,451.6 472.2,453.7 C473.6,455.8 475.2,457.7 477.0,459.1 C478.8,460.6 480.6,461.4 482.8,462.7 C485.0,464.0 486.5,465.3 490.0,466.9 C493.5,468.5 499.7,470.7 503.9,472.3 C508.1,473.9 511.5,475.0 515.0,476.3 C518.5,477.6 522.4,479.2 525.1,480.3 C527.8,481.4 529.1,481.9 531.0,482.9 C532.9,483.9 535.2,485.9 536.6,486.2 C538.0,486.4 538.8,485.5 539.6,484.6 C540.4,483.6 540.9,482.3 541.5,480.3 C542.1,478.3 542.6,479.3 543.3,472.4 C544.0,465.5 544.9,451.8 545.7,438.6 C546.5,425.5 547.2,405.3 548.1,393.5 C549.0,381.7 550.2,367.6 551.2,367.6 C552.2,367.6 553.4,382.0 554.1,393.6 C554.8,405.1 554.7,423.9 555.3,436.9 C555.9,449.9 556.9,462.8 557.7,471.5 C558.5,480.3 558.9,485.0 560.1,489.4 C561.3,493.8 563.0,495.9 564.9,497.9 C566.8,500.0 569.6,500.9 571.3,501.7 C573.0,502.5 573.9,502.3 575.0,502.6 C576.1,503.0 577.0,503.3 578.0,503.5 C579.0,503.7 580.0,503.8 581.0,503.8 C582.0,503.8 583.0,503.7 584.0,503.6 C585.0,503.6 586.0,503.6 587.0,503.7 C588.0,503.8 589.0,504.0 590.0,504.1 C591.0,504.1 592.0,504.0 593.0,504.1 C594.0,504.1 595.0,504.3 596.0,504.4 C597.0,504.4 598.0,504.3 599.0,504.3 C600.0,504.3 601.0,504.3 602.0,504.3 C603.0,504.2 604.0,504.2 605.0,504.2 C606.0,504.2 607.0,504.3 608.0,504.3 C609.0,504.3 610.0,504.0 611.0,504.0 C612.0,504.0 613.0,504.2 614.0,504.2 C615.0,504.2 616.0,504.0 617.0,504.0 C618.0,504.0 619.0,504.5 620.0,504.4 C621.0,504.4 622.0,503.9 623.0,503.7 C624.0,503.5 625.0,503.7 626.0,503.4 C627.0,503.1 628.0,502.4 629.0,502.1 C630.0,501.7 631.0,501.6 632.0,501.2 C633.0,500.8 634.0,500.1 635.0,499.9 C636.0,499.6 637.0,499.6 638.0,499.5 C639.0,499.5 640.0,499.5 641.0,499.4 C642.0,499.4 643.0,499.1 644.0,499.3 C645.0,499.5 646.0,500.2 647.0,500.8 C648.0,501.4 649.0,502.5 650.0,502.8 C651.0,503.1 652.0,502.7 653.0,502.6 C654.0,502.5 655.0,502.3 656.0,502.4 C657.0,502.4 658.0,502.8 659.0,502.9 C660.0,503.0 661.0,502.9 662.0,502.9 C663.0,502.8 664.0,502.6 665.0,502.7 C666.0,502.8 667.0,503.3 668.0,503.5 C669.0,503.7 670.0,503.7 671.0,503.9 C672.0,504.1 673.0,504.4 674.0,504.6 C675.0,504.7 676.0,504.8 677.0,504.8 C678.0,504.8 679.0,504.5 680.0,504.5 C681.0,504.5 682.0,504.8 683.0,504.8 C684.0,504.8 685.0,504.5 686.0,504.4 C687.0,504.4 688.0,504.4 689.0,504.5 C690.0,504.6 690.9,504.9 692.0,504.9 C693.1,504.9 695.1,504.7 695.7,504.7" fill="none" stroke="#c43c55" stroke-width="2.0" stroke-opacity="1.00" stroke-linejoin="round"/>
<path d="M717.3,502.1 C722.2,502.1 739.8,502.4 747.0,502.1 C754.2,501.8 757.5,501.0 760.5,500.5 C763.5,499.9 763.5,499.2 765.0,498.8 C766.5,498.4 768.0,497.9 769.5,498.2 C771.0,498.4 772.5,499.7 774.0,500.3 C775.5,500.9 776.7,501.7 778.4,501.6 C780.1,501.5 782.3,500.6 784.0,499.8 C785.7,498.9 787.2,497.7 788.5,496.5 C789.8,495.2 790.6,494.1 791.5,492.3 C792.4,490.5 793.3,488.8 794.1,485.8 C794.9,482.8 795.8,477.8 796.5,474.5 C797.2,471.2 797.9,466.2 798.6,466.0 C799.3,465.8 800.0,470.6 800.8,473.4 C801.5,476.1 802.3,479.5 803.1,482.5 C803.9,485.5 804.8,489.0 805.5,491.3 C806.2,493.6 806.7,495.1 807.6,496.5 C808.5,497.9 809.7,498.9 811.0,499.8 C812.3,500.6 809.0,501.2 815.5,501.6 C822.0,501.9 835.9,501.9 850.0,501.9 C864.1,501.8 883.3,501.6 900.0,501.3 C916.7,500.9 938.3,500.2 950.0,499.8 C961.7,499.4 964.2,499.5 970.0,498.8 C975.8,498.1 981.7,496.6 985.0,495.8 C988.3,495.0 988.4,494.6 990.0,493.8 C991.6,493.0 993.3,492.3 994.6,491.1 C995.9,489.9 996.9,488.1 998.0,486.5 C999.1,484.9 1000.1,483.8 1001.0,481.6 C1001.9,479.4 1002.7,475.6 1003.5,473.1 C1004.3,470.7 1005.0,467.1 1005.8,466.9 C1006.5,466.6 1007.2,470.0 1008.0,471.6 C1008.8,473.1 1009.8,475.9 1010.6,476.2 C1011.4,476.4 1012.2,473.7 1013.0,473.1 C1013.8,472.5 1014.6,471.7 1015.4,472.6 C1016.2,473.5 1016.9,476.0 1018.0,478.6 C1019.1,481.2 1020.7,488.6 1022.2,488.4 C1023.7,488.2 1025.7,482.7 1027.2,477.4 C1028.8,472.1 1030.0,463.4 1031.5,456.6 C1033.0,449.9 1034.6,441.1 1035.9,436.9 C1037.2,432.7 1038.2,431.3 1039.5,431.3 C1040.8,431.2 1042.2,433.7 1043.8,436.6 C1045.3,439.6 1046.8,443.6 1048.8,448.9 C1050.8,454.2 1053.8,462.8 1056.0,468.4 C1058.2,474.0 1060.0,478.7 1061.8,482.4 C1063.6,486.2 1065.1,490.3 1066.8,490.7 C1068.5,491.1 1070.3,488.7 1071.9,484.8 C1073.5,480.9 1075.0,473.3 1076.2,467.5 C1077.4,461.7 1078.2,455.2 1079.1,450.2 C1080.0,445.1 1080.9,436.7 1081.7,437.2 C1082.5,437.7 1083.3,446.7 1084.1,453.0 C1084.9,459.2 1085.4,468.8 1086.3,474.7 C1087.2,480.6 1087.9,485.5 1089.2,488.4 C1090.5,491.3 1091.9,491.2 1094.0,492.3 C1096.1,493.4 1098.8,494.4 1101.7,495.1 C1104.6,495.8 1107.8,496.6 1111.3,496.7 C1114.8,496.8 1120.1,497.0 1122.5,495.9 C1124.9,494.7 1124.7,491.8 1125.5,489.8 C1126.3,487.8 1126.9,485.3 1127.5,483.8 C1128.1,482.3 1128.4,480.5 1128.9,480.7 C1129.4,480.9 1130.0,483.1 1130.5,484.8 C1131.0,486.5 1131.5,488.9 1132.0,490.9 C1132.5,492.8 1132.9,495.5 1133.7,496.8 C1134.5,498.1 1134.7,498.3 1136.6,498.9 C1138.5,499.5 1143.2,500.1 1145.0,500.4 C1146.8,500.7 1146.7,500.8 1147.5,500.7 C1148.3,500.6 1149.2,500.0 1150.0,500.0 C1150.8,499.9 1151.7,500.0 1152.5,500.2 C1153.3,500.4 1154.2,501.1 1155.0,501.2 C1155.8,501.4 1156.7,501.3 1157.5,501.4 C1158.3,501.4 1159.2,501.5 1160.0,501.5 C1160.8,501.5 1161.7,501.3 1162.5,501.3 C1163.3,501.4 1164.2,501.7 1165.0,501.8 C1165.8,501.9 1166.7,501.8 1167.5,501.9 C1168.3,501.9 1169.2,502.0 1170.0,501.9 C1170.8,501.9 1171.7,501.5 1172.5,501.5 C1173.3,501.5 1174.2,501.8 1175.0,501.9 C1175.8,502.0 1176.7,501.9 1177.5,502.0 C1178.3,502.1 1179.2,502.3 1180.0,502.4 C1180.8,502.6 1181.7,502.7 1182.5,502.8 C1183.3,502.9 1184.2,502.9 1185.0,502.8 C1185.8,502.8 1186.7,502.5 1187.5,502.5 C1188.3,502.4 1189.2,502.5 1190.0,502.5 C1190.8,502.4 1191.7,502.4 1192.5,502.4 C1193.3,502.3 1194.2,502.2 1195.0,502.2 C1195.8,502.2 1196.7,502.2 1197.5,502.4 C1198.3,502.5 1199.2,502.9 1200.0,503.0 C1200.8,503.1 1201.7,502.9 1202.5,502.9 C1203.3,503.0 1204.2,503.0 1205.0,503.1 C1205.8,503.3 1206.7,503.8 1207.5,503.8 C1208.3,503.9 1209.2,503.6 1210.0,503.6 C1210.8,503.5 1211.7,503.7 1212.5,503.7 C1213.3,503.7 1214.2,503.6 1215.0,503.5 C1215.8,503.4 1216.7,503.3 1217.5,503.3 C1218.3,503.3 1219.2,503.6 1220.0,503.7 C1220.8,503.7 1221.7,503.5 1222.5,503.5 C1223.3,503.6 1224.2,503.8 1225.0,504.0 C1225.8,504.1 1226.7,504.5 1227.5,504.6 C1228.3,504.6 1229.2,504.4 1230.0,504.2 C1230.8,504.1 1231.7,503.7 1232.5,503.7 C1233.3,503.8 1234.2,504.4 1235.0,504.6 C1235.8,504.7 1236.7,504.5 1237.5,504.5 C1238.3,504.5 1239.2,504.4 1240.0,504.5 C1240.8,504.5 1241.7,504.7 1242.5,504.7 C1243.3,504.7 1244.2,504.6 1245.0,504.6 C1245.8,504.6 1246.7,504.7 1247.5,504.7 C1248.3,504.6 1249.2,504.2 1250.0,504.2 C1250.8,504.3 1251.7,504.8 1252.5,504.9 C1253.3,505.1 1254.2,505.1 1255.0,504.9 C1255.8,504.8 1256.7,504.1 1257.5,504.1 C1258.3,504.0 1259.2,504.6 1260.0,504.7 C1260.8,504.9 1261.7,504.8 1262.5,504.7 C1263.3,504.7 1264.2,504.5 1265.0,504.5 C1265.8,504.4 1266.7,504.5 1267.5,504.6 C1268.3,504.6 1269.2,504.4 1270.0,504.5 C1270.8,504.6 1271.7,505.0 1272.5,505.0 C1273.3,505.0 1274.2,504.6 1275.0,504.6 C1275.8,504.6 1276.7,505.0 1277.5,505.0 C1278.3,504.9 1279.2,504.4 1280.0,504.4 C1280.8,504.5 1281.7,504.9 1282.5,505.1 C1283.3,505.2 1284.2,505.2 1285.0,505.1 C1285.8,505.0 1286.7,504.7 1287.5,504.6 C1288.3,504.6 1289.2,504.7 1290.0,504.8 C1290.8,504.8 1291.7,505.1 1292.5,505.2 C1293.3,505.2 1294.2,505.0 1295.0,505.0 C1295.8,504.9 1296.7,504.8 1297.5,504.7 C1298.3,504.6 1299.2,504.5 1300.0,504.5 C1300.8,504.4 1301.7,504.5 1302.5,504.6 C1303.3,504.7 1304.2,505.0 1305.0,505.0 C1305.8,505.0 1306.7,504.4 1307.5,504.4 C1308.3,504.5 1309.2,505.3 1310.0,505.3 C1310.8,505.3 1311.7,504.6 1312.5,504.6 C1313.3,504.6 1314.1,505.3 1315.0,505.3 C1315.9,505.4 1317.5,505.0 1318.0,504.9" fill="none" stroke="#c43c55" stroke-width="2.0" stroke-opacity="1.00" stroke-linejoin="round"/>
<path d="M153.3,432.4 C154.1,433.4 156.2,436.1 158.0,438.2 C159.8,440.3 162.2,443.0 164.2,445.2 C166.2,447.4 168.3,449.6 170.0,451.2 C171.7,452.8 173.0,454.5 174.5,454.8 C176.0,455.1 177.5,453.3 179.0,452.9 C180.5,452.5 182.1,453.9 183.5,452.2 C184.9,450.5 185.9,445.9 187.3,442.6 C188.7,439.3 190.3,433.6 191.8,432.4 C193.3,431.2 194.7,433.5 196.3,435.6 C197.9,437.7 199.9,442.8 201.4,445.2 C202.9,447.6 203.6,449.1 205.3,449.7 C207.0,450.3 209.8,448.5 211.7,449.0 C213.6,449.5 215.2,451.5 216.8,452.9 C218.4,454.3 220.0,458.0 221.3,457.4 C222.6,456.8 223.3,452.9 224.5,449.0 C225.7,445.1 227.1,437.8 228.3,433.7 C229.5,429.6 230.4,426.7 231.5,424.2 C232.6,421.7 233.1,418.8 234.7,418.9 C236.3,419.0 239.2,423.2 241.2,424.7 C243.2,426.2 245.3,427.8 246.8,427.7 C248.3,427.6 249.3,425.6 250.3,424.2 C251.3,422.8 252.1,421.6 253.0,419.2 C253.9,416.8 254.8,413.6 255.6,409.6 C256.4,405.6 256.9,399.9 257.5,395.2 C258.1,390.5 258.5,389.6 259.1,381.4 C259.7,373.2 260.3,357.9 260.9,346.1 C261.5,334.3 262.2,322.6 262.9,310.8 C263.6,299.0 264.3,287.3 265.0,275.5 C265.7,263.7 266.3,251.1 266.9,240.2 C267.5,229.3 268.2,217.4 268.7,210.2 C269.2,203.0 269.5,200.7 269.8,197.2 C270.1,193.7 270.3,189.2 270.6,189.2 C270.9,189.2 271.2,193.7 271.5,197.2 C271.8,200.7 272.1,203.0 272.6,210.2 C273.1,217.4 273.7,229.3 274.4,240.2 C275.1,251.1 276.1,263.7 277.0,275.5 C277.9,287.3 278.8,299.0 279.7,310.8 C280.6,322.6 281.7,334.3 282.6,346.1 C283.5,357.9 284.5,371.5 285.3,381.4 C286.1,391.2 286.9,399.3 287.5,405.2 C288.1,411.1 288.5,411.9 289.1,416.7 C289.7,421.5 290.3,429.5 290.9,434.2 C291.5,438.9 292.1,441.9 292.6,444.9 C293.1,447.9 293.2,450.0 294.1,452.2 C295.0,454.4 296.5,456.4 298.0,458.2 C299.5,460.0 301.8,462.4 303.1,462.9 C304.4,463.4 304.9,461.6 306.0,461.2 C307.1,460.8 308.1,459.8 309.5,460.3 C310.9,460.8 312.5,461.3 314.6,464.2 C316.7,467.1 319.7,474.0 322.3,477.6 C324.9,481.2 327.6,484.3 330.0,486.0 C332.4,487.7 334.3,487.9 336.4,487.9 C338.5,487.9 340.9,485.9 342.8,486.0 C344.7,486.1 345.6,488.7 348.0,488.5 C350.4,488.3 354.1,486.0 356.9,484.7 C359.7,483.4 362.2,483.1 364.6,480.8 C367.0,478.6 369.3,474.8 371.0,471.2 C372.7,467.6 373.7,461.1 374.9,459.0 C376.1,456.9 376.9,458.7 378.0,458.7 C379.1,458.7 380.3,460.3 381.5,459.2 C382.7,458.1 384.0,454.7 385.0,452.2 C386.0,449.7 386.7,447.9 387.6,444.2 C388.5,440.5 389.5,434.2 390.3,430.2 C391.1,426.2 391.9,425.2 392.5,420.2 C393.1,415.2 393.4,411.9 394.0,400.2 C394.6,388.5 395.4,365.2 396.0,350.2 C396.6,335.2 396.9,322.2 397.3,310.2 C397.7,298.2 397.9,289.9 398.2,278.2 C398.5,266.5 398.9,253.0 399.3,240.2 C399.7,227.4 400.0,213.2 400.5,201.2 C401.0,189.2 401.7,175.4 402.3,168.2 C402.9,161.0 403.4,158.7 404.0,158.2 C404.6,157.7 405.1,158.0 405.8,165.2 C406.5,172.4 407.3,188.7 408.1,201.2 C408.9,213.7 409.5,227.4 410.6,240.2 C411.7,253.0 413.4,267.5 414.5,278.2 C415.6,288.9 416.1,297.2 417.0,304.2 C417.9,311.2 418.8,315.0 420.0,320.2 C421.2,325.4 422.8,331.7 424.0,335.2 C425.2,338.7 425.9,339.7 427.0,341.2 C428.1,342.7 429.2,344.2 430.4,344.4 C431.6,344.6 432.7,343.7 434.0,342.2 C435.3,340.7 436.7,337.7 438.0,335.2 C439.3,332.7 440.7,329.2 442.0,327.2 C443.3,325.2 444.6,323.0 445.8,323.2 C447.0,323.4 448.0,324.5 449.0,328.2 C450.0,331.9 451.0,339.0 452.0,345.2 C453.0,351.4 454.1,359.9 455.0,365.2 C455.9,370.5 456.6,371.4 457.3,377.2 C458.0,383.0 458.2,392.5 459.0,400.2 C459.8,407.9 460.8,416.9 461.8,423.2 C462.8,429.5 464.1,434.1 465.2,438.2 C466.3,442.3 467.3,444.9 468.5,447.7 C469.7,450.4 470.8,452.6 472.2,454.7 C473.6,456.8 475.2,458.8 477.0,460.4 C478.8,462.0 480.6,462.8 482.8,464.2 C485.0,465.6 486.5,467.1 490.0,468.8 C493.5,470.5 499.7,472.6 503.9,474.2 C508.1,475.8 511.5,476.9 515.0,478.2 C518.5,479.5 522.4,481.1 525.1,482.2 C527.8,483.3 529.1,483.8 531.0,484.7 C532.9,485.6 535.2,487.3 536.6,487.4 C538.0,487.5 538.8,486.5 539.6,485.5 C540.4,484.5 540.9,483.2 541.5,481.2 C542.1,479.2 542.6,479.6 543.3,473.5 C544.0,467.4 544.9,455.4 545.7,444.5 C546.5,433.6 547.2,417.4 548.1,408.4 C549.0,399.3 550.2,390.2 551.2,390.2 C552.2,390.2 553.4,399.3 554.1,408.4 C554.8,417.4 554.7,433.6 555.3,444.5 C555.9,455.4 556.9,465.9 557.7,473.5 C558.5,481.1 558.9,486.1 560.1,490.3 C561.3,494.5 563.0,496.8 564.9,498.8 C566.8,500.9 569.6,501.8 571.3,502.6 C573.0,503.4 573.9,503.0 575.0,503.3 C576.1,503.6 577.0,504.2 578.0,504.5 C579.0,504.7 580.0,504.6 581.0,504.7 C582.0,504.8 583.0,505.0 584.0,505.0 C585.0,505.0 586.0,504.8 587.0,504.8 C588.0,504.7 589.0,504.8 590.0,504.9 C591.0,505.0 592.0,505.2 593.0,505.2 C594.0,505.3 595.0,505.2 596.0,505.2 C597.0,505.2 598.0,505.0 599.0,505.0 C600.0,505.0 601.0,505.2 602.0,505.2 C603.0,505.2 604.0,505.0 605.0,505.0 C606.0,505.0 607.0,505.3 608.0,505.3 C609.0,505.2 610.0,504.9 611.0,504.9 C612.0,504.8 613.0,504.9 614.0,504.9 C615.0,505.0 616.0,505.3 617.0,505.3 C618.0,505.4 619.0,505.1 620.0,505.0 C621.0,504.9 622.0,504.8 623.0,504.7 C624.0,504.6 625.0,504.5 626.0,504.3 C627.0,504.0 628.0,503.7 629.0,503.3 C630.0,502.9 631.0,502.2 632.0,501.8 C633.0,501.4 634.0,501.1 635.0,500.9 C636.0,500.7 637.0,500.7 638.0,500.6 C639.0,500.4 640.0,499.9 641.0,499.9 C642.0,499.9 643.0,500.3 644.0,500.6 C645.0,500.9 646.0,501.3 647.0,501.7 C648.0,502.2 649.0,503.1 650.0,503.4 C651.0,503.6 652.0,503.3 653.0,503.2 C654.0,503.2 655.0,503.2 656.0,503.3 C657.0,503.4 658.0,503.8 659.0,503.8 C660.0,503.8 661.0,503.4 662.0,503.4 C663.0,503.5 664.0,503.9 665.0,504.1 C666.0,504.3 667.0,504.2 668.0,504.4 C669.0,504.5 670.0,504.8 671.0,505.1 C672.0,505.3 673.0,505.7 674.0,505.8 C675.0,505.9 676.0,505.8 677.0,505.7 C678.0,505.6 679.0,505.4 680.0,505.4 C681.0,505.4 682.0,505.6 683.0,505.7 C684.0,505.7 685.0,505.7 686.0,505.7 C687.0,505.6 688.0,505.5 689.0,505.4 C690.0,505.4 690.9,505.3 692.0,505.4 C693.1,505.4 695.1,505.6 695.7,505.6" fill="none" stroke="#9a70d0" stroke-width="2.0" stroke-opacity="0.75" stroke-linejoin="round"/>
<path d="M717.3,503.9 C722.2,503.9 739.8,504.1 747.0,503.9 C754.2,503.6 757.5,502.8 760.5,502.3 C763.5,501.7 763.5,500.9 765.0,500.6 C766.5,500.2 768.0,499.7 769.5,500.0 C771.0,500.2 772.5,501.5 774.0,502.1 C775.5,502.6 776.7,503.4 778.4,503.4 C780.1,503.3 782.3,502.4 784.0,501.6 C785.7,500.7 787.2,499.5 788.5,498.3 C789.8,497.0 790.6,495.9 791.5,494.1 C792.4,492.2 793.3,490.2 794.1,487.1 C794.9,483.9 795.8,478.6 796.5,475.1 C797.2,471.5 797.9,465.9 798.6,465.8 C799.3,465.6 800.0,471.1 800.8,474.1 C801.5,477.1 802.3,480.6 803.1,483.8 C803.9,486.9 804.8,490.6 805.5,493.1 C806.2,495.5 806.7,496.8 807.6,498.3 C808.5,499.7 809.7,500.7 811.0,501.6 C812.3,502.4 809.0,503.0 815.5,503.4 C822.0,503.7 835.9,503.7 850.0,503.7 C864.1,503.6 883.3,503.4 900.0,503.1 C916.7,502.7 938.3,502.0 950.0,501.6 C961.7,501.1 964.2,501.2 970.0,500.6 C975.8,499.9 981.7,498.4 985.0,497.6 C988.3,496.7 988.4,496.5 990.0,495.6 C991.6,494.7 993.3,493.6 994.6,492.2 C995.9,490.7 996.9,488.8 998.0,487.1 C999.1,485.3 1000.1,484.1 1001.0,481.8 C1001.9,479.4 1002.7,475.6 1003.5,473.1 C1004.3,470.5 1005.0,466.9 1005.8,466.6 C1006.5,466.2 1007.2,469.6 1008.0,471.1 C1008.8,472.5 1009.8,475.2 1010.6,475.4 C1011.4,475.5 1012.2,472.7 1013.0,472.1 C1013.8,471.4 1014.6,470.5 1015.4,471.4 C1016.2,472.2 1016.9,474.5 1018.0,477.1 C1019.1,479.6 1020.7,486.8 1022.2,486.5 C1023.7,486.1 1025.7,480.5 1027.2,475.0 C1028.8,469.4 1030.0,460.5 1031.5,453.3 C1033.0,446.0 1034.6,436.7 1035.9,431.7 C1037.2,426.6 1038.2,423.3 1039.5,423.1 C1040.8,422.8 1042.2,426.4 1043.8,430.3 C1045.3,434.1 1046.8,439.8 1048.8,446.1 C1050.8,452.3 1053.8,461.7 1056.0,467.8 C1058.2,473.8 1060.0,478.3 1061.8,482.2 C1063.6,486.0 1065.1,490.3 1066.8,490.8 C1068.5,491.2 1070.3,488.9 1071.9,485.1 C1073.5,481.2 1075.0,473.5 1076.2,467.8 C1077.4,462.0 1078.2,455.5 1079.1,450.5 C1080.0,445.4 1080.9,437.0 1081.7,437.5 C1082.5,437.9 1083.3,447.0 1084.1,453.3 C1084.9,459.5 1085.4,469.1 1086.3,475.0 C1087.2,480.9 1087.9,485.7 1089.2,488.7 C1090.5,491.6 1091.9,491.4 1094.0,492.6 C1096.1,493.7 1098.8,494.6 1101.7,495.4 C1104.6,496.1 1107.8,496.8 1111.3,497.0 C1114.8,497.1 1120.1,497.3 1122.5,496.2 C1124.9,495.0 1124.7,492.1 1125.5,490.1 C1126.3,488.0 1126.9,485.6 1127.5,484.1 C1128.1,482.5 1128.4,480.8 1128.9,481.0 C1129.4,481.1 1130.0,483.4 1130.5,485.1 C1131.0,486.7 1131.5,489.1 1132.0,491.1 C1132.5,493.0 1132.9,495.6 1133.7,497.0 C1134.5,498.3 1134.7,498.5 1136.6,499.0 C1138.5,499.4 1143.2,499.3 1145.0,499.4 C1146.8,499.5 1146.7,499.4 1147.5,499.5 C1148.3,499.6 1149.2,500.0 1150.0,500.0 C1150.8,500.1 1151.7,500.0 1152.5,500.0 C1153.3,500.0 1154.2,500.0 1155.0,500.1 C1155.8,500.2 1156.7,500.4 1157.5,500.7 C1158.3,500.9 1159.2,501.3 1160.0,501.4 C1160.8,501.6 1161.7,501.5 1162.5,501.5 C1163.3,501.6 1164.2,501.7 1165.0,501.6 C1165.8,501.5 1166.7,501.1 1167.5,501.1 C1168.3,501.1 1169.2,501.5 1170.0,501.5 C1170.8,501.6 1171.7,501.4 1172.5,501.3 C1173.3,501.3 1174.2,501.3 1175.0,501.3 C1175.8,501.3 1176.7,501.3 1177.5,501.3 C1178.3,501.4 1179.2,501.3 1180.0,501.5 C1180.8,501.7 1181.7,502.3 1182.5,502.4 C1183.3,502.5 1184.2,502.4 1185.0,502.4 C1185.8,502.4 1186.7,502.4 1187.5,502.4 C1188.3,502.5 1189.2,502.6 1190.0,502.5 C1190.8,502.4 1191.7,502.0 1192.5,501.9 C1193.3,501.9 1194.2,502.1 1195.0,502.2 C1195.8,502.3 1196.7,502.6 1197.5,502.7 C1198.3,502.8 1199.2,502.8 1200.0,502.9 C1200.8,503.0 1201.7,503.1 1202.5,503.2 C1203.3,503.3 1204.2,503.5 1205.0,503.4 C1205.8,503.3 1206.7,502.6 1207.5,502.6 C1208.3,502.6 1209.2,503.2 1210.0,503.3 C1210.8,503.5 1211.7,503.5 1212.5,503.5 C1213.3,503.5 1214.2,503.5 1215.0,503.5 C1215.8,503.4 1216.7,503.1 1217.5,503.1 C1218.3,503.2 1219.2,503.5 1220.0,503.5 C1220.8,503.5 1221.7,503.0 1222.5,503.1 C1223.3,503.2 1224.2,504.0 1225.0,504.1 C1225.8,504.3 1226.7,504.1 1227.5,504.1 C1228.3,504.0 1229.2,503.9 1230.0,503.8 C1230.8,503.7 1231.7,503.5 1232.5,503.5 C1233.3,503.6 1234.2,504.2 1235.0,504.3 C1235.8,504.3 1236.7,503.9 1237.5,503.9 C1238.3,503.9 1239.2,504.2 1240.0,504.3 C1240.8,504.4 1241.7,504.4 1242.5,504.3 C1243.3,504.3 1244.2,504.0 1245.0,504.0 C1245.8,503.9 1246.7,503.9 1247.5,503.9 C1248.3,504.0 1249.2,504.2 1250.0,504.2 C1250.8,504.2 1251.7,504.1 1252.5,504.0 C1253.3,503.9 1254.2,503.7 1255.0,503.7 C1255.8,503.7 1256.7,503.8 1257.5,503.9 C1258.3,504.0 1259.2,504.5 1260.0,504.5 C1260.8,504.4 1261.7,503.8 1262.5,503.6 C1263.3,503.5 1264.2,503.6 1265.0,503.7 C1265.8,503.8 1266.7,504.3 1267.5,504.3 C1268.3,504.4 1269.2,504.0 1270.0,504.0 C1270.8,504.0 1271.7,504.2 1272.5,504.3 C1273.3,504.3 1274.2,504.2 1275.0,504.2 C1275.8,504.2 1276.7,504.0 1277.5,504.1 C1278.3,504.2 1279.2,504.8 1280.0,504.8 C1280.8,504.8 1281.7,504.1 1282.5,504.0 C1283.3,503.9 1284.2,504.2 1285.0,504.2 C1285.8,504.2 1286.7,504.0 1287.5,504.0 C1288.3,504.1 1289.2,504.5 1290.0,504.5 C1290.8,504.5 1291.7,504.2 1292.5,504.1 C1293.3,504.1 1294.2,504.1 1295.0,504.2 C1295.8,504.3 1296.7,504.7 1297.5,504.7 C1298.3,504.7 1299.2,504.3 1300.0,504.2 C1300.8,504.2 1301.7,504.4 1302.5,504.5 C1303.3,504.6 1304.2,505.0 1305.0,504.9 C1305.8,504.8 1306.7,504.2 1307.5,504.0 C1308.3,503.9 1309.2,504.0 1310.0,504.0 C1310.8,504.0 1311.7,504.1 1312.5,504.2 C1313.3,504.4 1314.1,504.8 1315.0,504.8 C1315.9,504.9 1317.5,504.6 1318.0,504.6" fill="none" stroke="#9a70d0" stroke-width="2.0" stroke-opacity="0.75" stroke-linejoin="round"/>
<line x1="93.5" y1="11.5" x2="93.5" y2="546.5" stroke="#1a1a1a" stroke-width="2"/>
<line x1="83" y1="507.6" x2="93.5" y2="507.6" stroke="#1a1a1a" stroke-width="2"/>
<text x="74.5" y="514.9" text-anchor="end" class="tick">0.10</text>
<line x1="83" y1="366.1" x2="93.5" y2="366.1" stroke="#1a1a1a" stroke-width="2"/>
<text x="74.5" y="373.4" text-anchor="end" class="tick">0.15</text>
<line x1="83" y1="224.5" x2="93.5" y2="224.5" stroke="#1a1a1a" stroke-width="2"/>
<text x="74.5" y="231.8" text-anchor="end" class="tick">0.20</text>
<line x1="83" y1="83.0" x2="93.5" y2="83.0" stroke="#1a1a1a" stroke-width="2"/>
<text x="74.5" y="90.3" text-anchor="end" class="tick">0.25</text>
<line x1="88" y1="436.8" x2="93.5" y2="436.8" stroke="#1a1a1a" stroke-width="2"/>
<line x1="88" y1="295.3" x2="93.5" y2="295.3" stroke="#1a1a1a" stroke-width="2"/>
<line x1="88" y1="153.8" x2="93.5" y2="153.8" stroke="#1a1a1a" stroke-width="2"/>
<line x1="88" y1="12.2" x2="93.5" y2="12.2" stroke="#1a1a1a" stroke-width="2"/>
<line x1="92.5" y1="536.3" x2="694" y2="536.3" stroke="#1a1a1a" stroke-width="2"/>
<line x1="717.9" y1="536.3" x2="1320.3" y2="536.3" stroke="#1a1a1a" stroke-width="2"/>
<line x1="685.1" y1="546.2" x2="705.6" y2="526.5" stroke="#1a1a1a" stroke-width="2"/>
<line x1="706.3" y1="546.7" x2="727.6" y2="526.3" stroke="#1a1a1a" stroke-width="2"/>
<line x1="93.5" y1="536.3" x2="93.5" y2="546.5" stroke="#1a1a1a" stroke-width="2"/>
<text x="93.5" y="570.5" text-anchor="middle" class="tick">500</text>
<line x1="243.9" y1="536.3" x2="243.9" y2="546.5" stroke="#1a1a1a" stroke-width="2"/>
<text x="243.9" y="570.5" text-anchor="middle" class="tick">750</text>
<line x1="394.4" y1="536.3" x2="394.4" y2="546.5" stroke="#1a1a1a" stroke-width="2"/>
<text x="394.4" y="570.5" text-anchor="middle" class="tick">1000</text>
<line x1="545.0" y1="536.3" x2="545.0" y2="546.5" stroke="#1a1a1a" stroke-width="2"/>
<text x="545.0" y="570.5" text-anchor="middle" class="tick">1250</text>
<line x1="818.1" y1="536.3" x2="818.1" y2="546.5" stroke="#1a1a1a" stroke-width="2"/>
<text x="818.1" y="570.5" text-anchor="middle" class="tick">3000</text>
<line x1="943.4" y1="536.3" x2="943.4" y2="546.5" stroke="#1a1a1a" stroke-width="2"/>
<text x="943.4" y="570.5" text-anchor="middle" class="tick">3250</text>
<line x1="1068.6" y1="536.3" x2="1068.6" y2="546.5" stroke="#1a1a1a" stroke-width="2"/>
<text x="1068.6" y="570.5" text-anchor="middle" class="tick">3500</text>
<line x1="1193.9" y1="536.3" x2="1193.9" y2="546.5" stroke="#1a1a1a" stroke-width="2"/>
<text x="1193.9" y="570.5" text-anchor="middle" class="tick">3750</text>
<line x1="1319.3" y1="536.3" x2="1319.3" y2="546.5" stroke="#1a1a1a" stroke-width="2"/>
<text x="1319.3" y="570.5" text-anchor="middle" class="tick">4000</text>
<text class="title" transform="translate(25.6,273) rotate(-90)" text-anchor="middle">Absorbance</text>
<text class="title" x="593" y="610.4">Wave number (cm<tspan dy="-11" font-size="17">&#8722;1</tspan><tspan dy="11">)</tspan></text>
<text class="ann" x="187.5" y="139.7">Si&#8211;(CH<tspan dy="9" font-size="21">3</tspan><tspan dy="-9">)</tspan><tspan dy="9" font-size="21">2</tspan></text>
<text class="ann" x="369.5" y="102">Si&#8211;O&#8211;Si</text>
<text class="ann" x="525.5" y="345.7">Si&#8211;CH<tspan dy="9" font-size="21">3</tspan></text>
<text class="ann" x="1003" y="395">&#8211;OH</text>
<line x1="1050.2" y1="43.1" x2="1112" y2="43.1" stroke="#4a4a4a" stroke-width="1.7"/>
<text class="leg" x="1119.5" y="53.1">B<tspan dy="7" font-size="19">1</tspan><tspan dy="-7"> &#8211; 1 year</tspan></text>
<line x1="1050.2" y1="87.0" x2="1112" y2="87.0" stroke="#cc5c66" stroke-width="1.7"/>
<text class="leg" x="1119.5" y="97.0">B<tspan dy="7" font-size="19">2</tspan><tspan dy="-7"> &#8211; 3.5 years</tspan></text>
<line x1="1050.2" y1="130.2" x2="1112" y2="130.2" stroke="#3a8f66" stroke-width="1.7"/>
<text class="leg" x="1119.5" y="140.2">B<tspan dy="7" font-size="19">3</tspan><tspan dy="-7"> &#8211; 6 years</tspan></text>
<line x1="1050.2" y1="173.5" x2="1112" y2="173.5" stroke="#a08ad0" stroke-width="1.7"/>
<text class="leg" x="1119.5" y="183.5">B<tspan dy="7" font-size="19">4</tspan><tspan dy="-7"> &#8211; 10 years</tspan></text>
</svg>
</body></html>
